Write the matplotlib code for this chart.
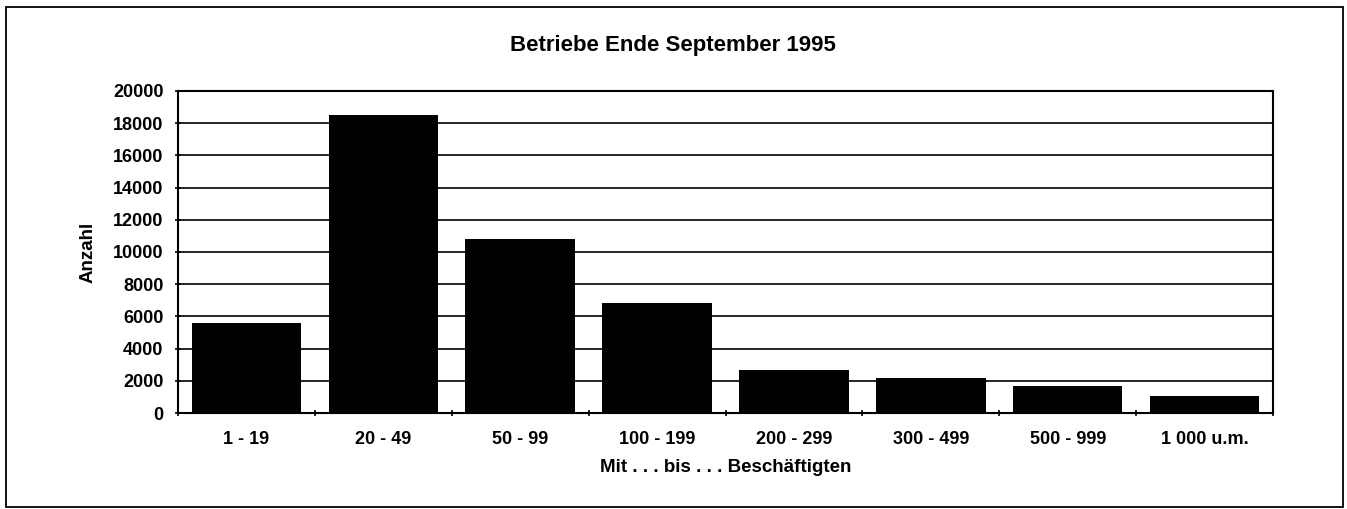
import matplotlib
matplotlib.use("Agg")
import matplotlib.pyplot as plt
from matplotlib.patches import Rectangle

categories = ["1 - 19", "20 - 49", "50 - 99", "100 - 199", "200 - 299",
              "300 - 499", "500 - 999", "1 000 u.m."]
values = [5600, 18500, 10800, 6850, 2700, 2150, 1700, 1050]
yticks = [0, 2000, 4000, 6000, 8000, 10000, 12000, 14000, 16000, 18000, 20000]

plt.rcParams['font.family'] = ['Liberation Sans', 'DejaVu Sans']

W, H = 1347, 509
fig = plt.figure(figsize=(W / 100, H / 100), dpi=100)
ax = fig.add_axes([178 / W, 1 - 413 / H, (1273 - 178) / W, (413 - 91) / H])

x = list(range(len(categories)))
ax.bar(x, values, width=0.8, color='black', zorder=3)
ax.set_xlim(-0.5, len(categories) - 0.5)
ax.set_ylim(0, 20000)
ax.set_yticks(yticks)
ax.set_yticklabels([str(v) for v in yticks], fontsize=13, fontweight='bold')
ax.set_xticks(x)
ax.set_xticklabels(categories, fontsize=13, fontweight='bold')
ax.tick_params(axis='x', length=0, pad=13)
ax.set_xticks([i - 0.5 for i in range(len(categories) + 1)], minor=True)
ax.tick_params(axis='x', which='minor', length=5, width=1.2, direction='inout')
ax.tick_params(axis='y', length=5, width=1.2, direction='inout', pad=8)
ax.yaxis.grid(True, color='black', linewidth=1.2, zorder=1)
ax.set_axisbelow(True)
for s in ax.spines.values():
    s.set_linewidth(1.5)
    s.set_color('black')

ax.set_ylabel("Anzahl", fontsize=13.5, fontweight='bold', labelpad=12)
ax.set_xlabel("Mit . . . bis . . . Beschäftigten", fontsize=13.5, fontweight='bold', labelpad=8)
fig.text(673 / W, 1 - 45 / H, "Betriebe Ende September 1995", ha='center', va='center',
         fontsize=16, fontweight='bold')

fig.patches.append(Rectangle((6 / W, 1 - 507 / H), (1343 - 6) / W, (507 - 7) / H,
                             transform=fig.transFigure, fill=False, edgecolor='black',
                             linewidth=1.3))

fig.savefig("out.png", dpi=100)
